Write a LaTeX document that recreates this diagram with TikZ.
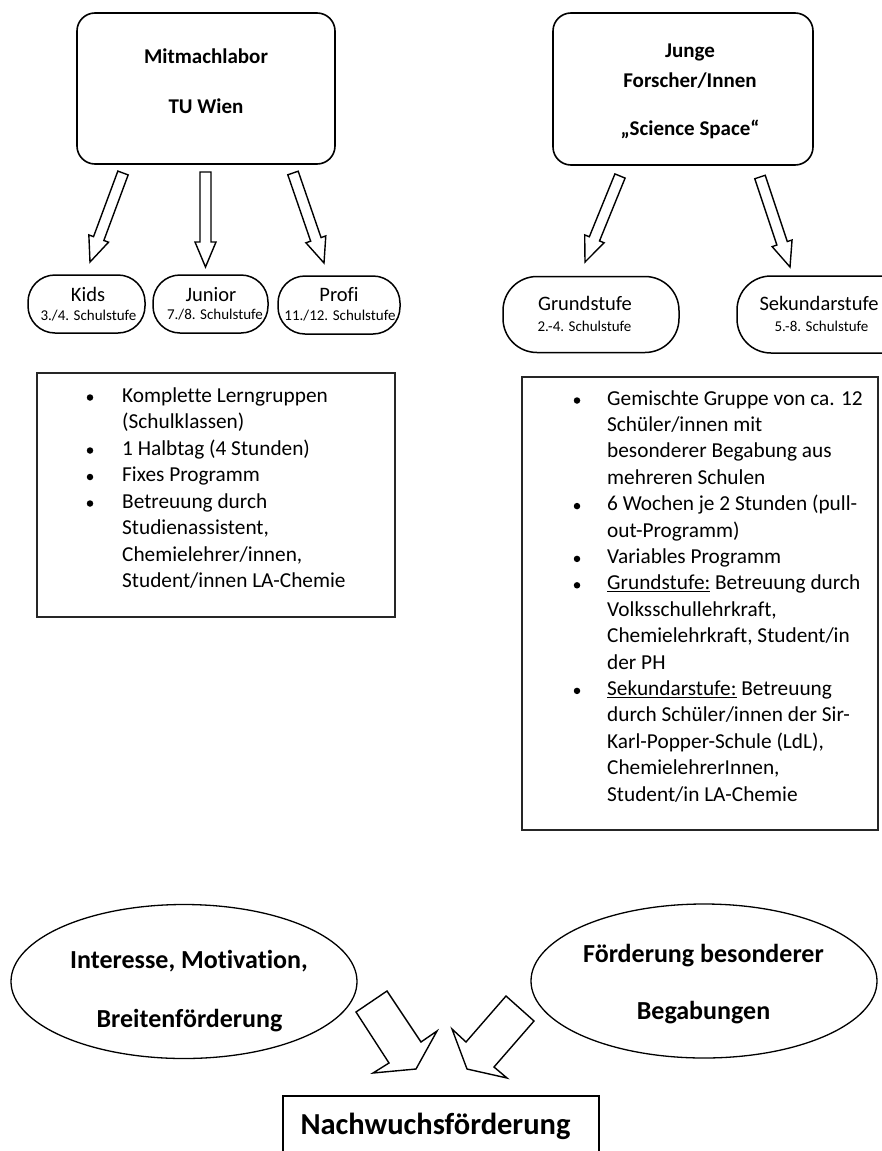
\documentclass[tikz,border=0pt]{standalone}
\usepackage{fontspec}
\setmainfont{Carlito}[Ligatures={NoCommon}]
\usetikzlibrary{calc,shapes.geometric}
\newcommand\fsz[1]{\fontsize{#1}{#1}\selectfont}
% hollow block arrow: start coordinate, tip coordinate, prefix
\newcommand\hollowarrow[3]{%
  \coordinate (#3h) at ($(#2)!25pt!(#1)$);
  \draw[blockarrow] ($(#1)!5.5pt!90:(#2)$) -- ($(#3h)!5.5pt!90:(#2)$) -- ($(#3h)!10.5pt!90:(#2)$)
    -- (#2) -- ($(#3h)!10.5pt!-90:(#2)$) -- ($(#3h)!5.5pt!-90:(#2)$) -- ($(#1)!5.5pt!-90:(#2)$) -- cycle;
}
\begin{document}
\begin{tikzpicture}[x=1pt,y=-1pt,
  topbox/.style={draw, line width=1.6pt, rounded corners=18pt, inner sep=0},
  pill/.style={draw, line width=1.5pt, rounded corners=27pt, inner sep=0},
  bigpill/.style={draw, line width=1.5pt, rounded corners=34pt, inner sep=0},
  listbox/.style={draw=black!85, line width=1.8pt, inner sep=0},
  blockarrow/.style={draw, line width=1.4pt, line join=miter, fill=white},
  title/.style={font=\bfseries\fsz{21}, inner sep=0, anchor=base},
  lvl/.style={font=\fsz{20.5}, inner sep=0, anchor=base},
  grade/.style={font=\fsz{15}, inner sep=0, anchor=base},
  listtext/.style={font=\fsz{21.3}, inner sep=0, anchor=base west},
  bul/.style={circle, fill=black, inner sep=0, minimum size=6.5pt},
  ell/.style={draw, ellipse, line width=1.3pt, inner sep=0},
  elltext/.style={font=\bfseries\fsz{26}, inner sep=0, anchor=base},
  resbox/.style={draw, line width=1.6pt, inner sep=0},
  restext/.style={font=\bfseries\fsz{30.5}, inner sep=0, anchor=base}
]
\useasboundingbox (0,0) rectangle (881,1151);

% ---------- top boxes ----------
\node[topbox, minimum width=258pt, minimum height=151pt] (mit) at (206,88.5) {};
\node[title] (mitA) at (206,63.5) {Mitmachlabor};
\node[title] (mitB) at (206,113) {TU Wien};

\node[topbox, minimum width=260pt, minimum height=152pt] (jf) at (683,89) {};
\node[title] (jfA) at (690,57) {Junge};
\node[title] (jfB) at (690,87) {Forscher/Innen};
\node[title] (jfC) at (690,135) {„Science Space“};

% ---------- arrows from top boxes ----------
\coordinate (a1s) at (123,173); \coordinate (a1t) at (90,262);
\coordinate (a2s) at (205.5,172); \coordinate (a2t) at (205.5,267);
\coordinate (a3s) at (293,173); \coordinate (a3t) at (324,263);
\coordinate (a4s) at (620,176); \coordinate (a4t) at (585,262);
\coordinate (a5s) at (760,177); \coordinate (a5t) at (790,267);
\hollowarrow{a1s}{a1t}{a1}
\hollowarrow{a2s}{a2t}{a2}
\hollowarrow{a3s}{a3t}{a3}
\hollowarrow{a4s}{a4t}{a4}
\hollowarrow{a5s}{a5t}{a5}

% ---------- level pills ----------
\node[pill, minimum width=117pt, minimum height=58pt] (kids) at (86.5,304) {};
\node[lvl] (kidsA) at (88,301.5) {Kids};
\node[grade] (kidsB) at (88.5,320.5) {3./4. Schulstufe};

\node[pill, minimum width=115pt, minimum height=58pt] (junior) at (210.5,304) {};
\node[lvl] (juniorA) at (211,301.5) {Junior};
\node[grade] (juniorB) at (215,319.5) {7./8. Schulstufe};

\node[pill, minimum width=122pt, minimum height=58pt] (profi) at (339,305) {};
\node[lvl] (profiA) at (339,301.5) {Profi};
\node[grade] (profiB) at (340,320.5) {11./12. Schulstufe};

\node[bigpill, minimum width=176pt, minimum height=76pt] (grund) at (591,314.5) {};
\node[lvl] (grundA) at (585,310) {Grundstufe};
\node[grade] (grundB) at (584.5,331.5) {2.-4. Schulstufe};

\node[bigpill, minimum width=200pt, minimum height=77pt] (sek) at (837,314.5) {};
\node[lvl] (sekA) at (819,310) {Sekundarstufe};
\node[grade] (sekB) at (821.5,331.5) {5.-8. Schulstufe};

% ---------- left list ----------
\node[listbox, minimum width=358pt, minimum height=244pt] (llist) at (216,495) {};
\foreach \t [count=\i] in {Komplette Lerngruppen, (Schulklassen), 1 Halbtag (4 Stunden),
  Fixes Programm, Betreuung durch, {Studienassistent,}, {Chemielehrer/innen,},
  Student/innen LA-Chemie}
  \node[listtext] (ll\i) at (122,{402+26.5*(\i-1)}) {\t};
\foreach \i in {1,3,4,5}
  \node[bul] (lb\i) at (90,{397.5+26.5*(\i-1)}) {};

% ---------- right list ----------
\node[listbox, minimum width=356pt, minimum height=453pt] (rlist) at (700,603.5) {};
\foreach \t [count=\i] in {Gemischte Gruppe von ca. 12, Schüler/innen mit,
  besonderer Begabung aus, mehreren Schulen, 6 Wochen je 2 Stunden (pull-,
  out-Programm), Variables Programm, \underline{Grundstufe:} Betreuung durch,
  {Volksschullehrkraft,}, {Chemielehrkraft, Student/in}, der PH,
  \underline{Sekundarstufe:} Betreuung, durch Schüler/innen der Sir-,
  {Karl-Popper-Schule (LdL),}, {ChemielehrerInnen,}, Student/in LA-Chemie}
  \node[listtext] (rl\i) at (607,{405+26.4*(\i-1)}) {\t};
\foreach \i in {1,5,7,8,12}
  \node[bul] (rb\i) at (577,{400.5+26.4*(\i-1)}) {};

% ---------- bottom ----------
\node[ell, minimum width=346pt, minimum height=154pt] (e1) at (184,981.5) {};
\node[elltext] (e1a) at (189,968) {Interesse, Motivation,};
\node[elltext] (e1b) at (189.5,1027) {Breitenförderung};

\node[ell, minimum width=346pt, minimum height=154pt] (e2) at (704,981) {};
\node[elltext] (e2a) at (703.5,962) {Förderung besonderer};
\node[elltext] (e2b) at (703.5,1019) {Begabungen};

\node[resbox, minimum width=316pt, minimum height=90pt] (res) at (441,1141) {};
\node[restext] (resA) at (435.5,1134) {Nachwuchsförderung};

% bottom hollow arrows
\draw[blockarrow] (356,1012) -- (387,991) -- (421,1042) -- (437,1031) -- (416,1069)
  -- (373,1073) -- (389,1063) -- cycle;
\draw[blockarrow] (452,1029) -- (466,1042) -- (506,996) -- (534,1021) -- (494,1067)
  -- (507,1078) -- (467,1069) -- cycle;
\end{tikzpicture}
\end{document}
